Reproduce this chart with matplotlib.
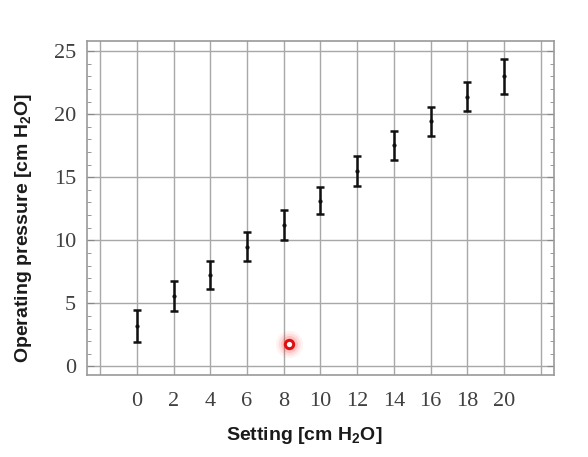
import numpy as np
import matplotlib
matplotlib.use('Agg')
import matplotlib.pyplot as plt
from matplotlib.ticker import MultipleLocator

# данные
setting = [0, 2, 4, 6, 8, 10, 12, 14, 16, 18, 20]
low = [1.95, 4.4, 6.1, 8.35, 10.0, 12.05, 14.3, 16.35, 18.3, 20.25, 21.6]
high = [4.45, 6.8, 8.35, 10.65, 12.4, 14.25, 16.7, 18.7, 20.6, 22.55, 24.4]
x_ticks = [0, 2, 4, 6, 8, 10, 12, 14, 16, 18, 20]
y_ticks = [0, 5, 10, 15, 20, 25]
# красный курсор мыши на скриншоте
cursor_x, cursor_y = 8.3, 1.75

plt.rcParams['mathtext.default'] = 'regular'

low = np.array(low)
high = np.array(high)
mid = (low + high) / 2

fig = plt.figure(figsize=(5.88, 4.57), dpi=100)
ax = fig.add_axes([0.148, 0.179, 0.794, 0.731])

ax.set_xlim(-2.72, 22.72)
ax.set_ylim(-0.7, 25.8)

# сетка
for gx in [-2] + x_ticks + [22]:
    ax.axvline(gx, color='#a8a8a8', lw=1.0, zorder=0)
for gy in y_ticks:
    ax.axhline(gy, color='#a8a8a8', lw=1.0, zorder=0)

ax.errorbar(setting, mid, yerr=[mid - low, high - mid], fmt='none',
            ecolor='#111111', elinewidth=1.8, capsize=3.2, capthick=1.8, zorder=3)
ax.plot(setting, mid, 'o', ms=2, color='#111111', zorder=4)

# курсор
for s, a in [(380, 0.06), (250, 0.1), (150, 0.16)]:
    ax.scatter([cursor_x], [cursor_y], s=s, color='#ff3030', alpha=a, lw=0, zorder=5)
ax.scatter([cursor_x], [cursor_y], s=36, facecolor='white', edgecolor='#e01010', lw=2.2, zorder=6)

for sp in ax.spines.values():
    sp.set_color('#9a9a9a')
    sp.set_linewidth(1.2)

ax.set_xticks(x_ticks)
ax.set_yticks(y_ticks)
ax.yaxis.set_minor_locator(MultipleLocator(1))
ax.tick_params(axis='x', length=0, pad=12, labelsize=16, labelcolor='#404040')
ax.tick_params(axis='y', which='both', direction='in', right=True, color='#888888', pad=8,
               labelsize=16, labelcolor='#404040')
ax.tick_params(axis='y', which='major', length=5)
ax.tick_params(axis='y', which='minor', length=3)
for lab in ax.get_xticklabels() + ax.get_yticklabels():
    lab.set_family('Liberation Serif')

ax.set_xlabel('Setting [cm H$_2$O]', family='Liberation Sans', fontweight='bold',
              fontsize=14, color='#1a1a1a')
ax.set_ylabel('Operating pressure [cm H$_2$O]', family='Liberation Sans', fontweight='bold',
              fontsize=14, color='#1a1a1a')
ax.xaxis.set_label_coords(0.465, -0.15)
ax.yaxis.set_label_coords(-0.113, 0.44)

fig.savefig('out.png', dpi=100)
